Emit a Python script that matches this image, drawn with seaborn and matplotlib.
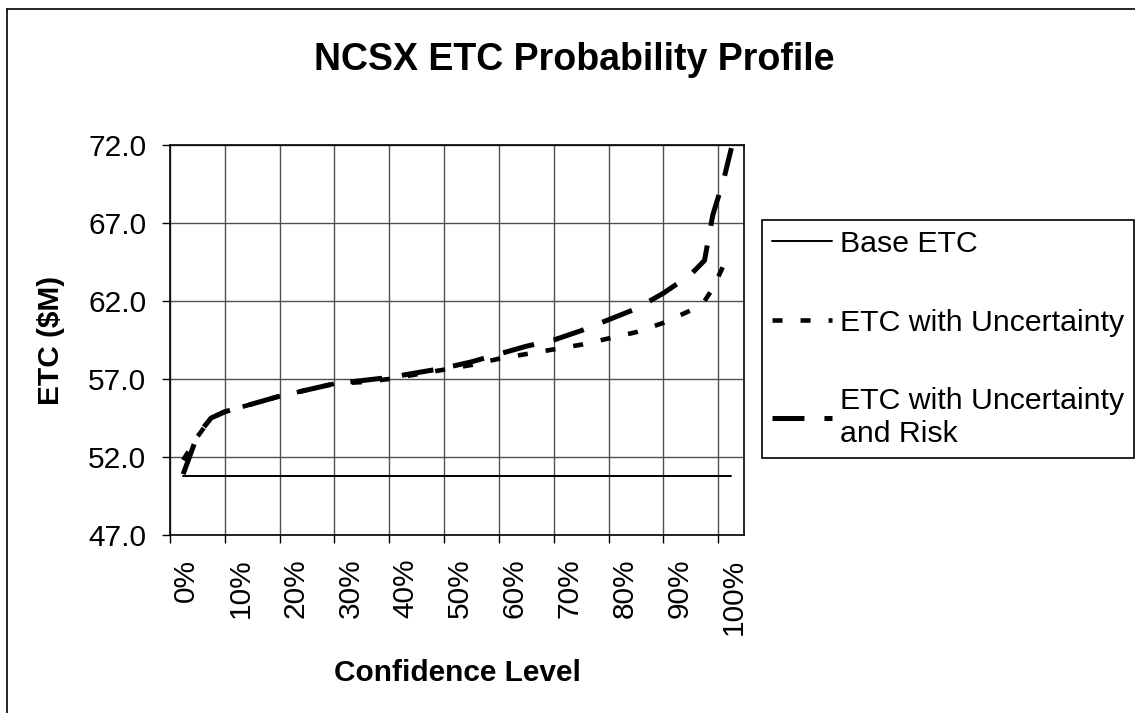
import pandas as pd
import seaborn as sns
import matplotlib.pyplot as plt
import matplotlib.transforms as mtransforms
from matplotlib.lines import Line2D
from matplotlib.ticker import FixedLocator, FixedFormatter, FormatStrFormatter

# values
confidence = [0.024, 0.05, 0.075, 0.10, 0.15, 0.20, 0.25, 0.30, 0.35, 0.40,
              0.45, 0.50, 0.55, 0.60, 0.65, 0.70, 0.75, 0.80, 0.85, 0.90,
              0.95, 0.975, 0.99, 1.01, 1.024]
etc_uncertainty = [51.8, 53.3, 54.5, 54.9, 55.4, 55.9, 56.3, 56.7, 56.8, 57.0,
                   57.3, 57.6, 57.9, 58.3, 58.6, 58.9, 59.2, 59.6, 60.0, 60.6,
                   61.4, 62.0, 62.8, 64.3, 65.1]
etc_risk = [50.9, 53.4, 54.5, 54.9, 55.4, 55.9, 56.3, 56.7, 56.9, 57.1,
            57.4, 57.7, 58.1, 58.6, 59.1, 59.5, 60.1, 60.8, 61.5, 62.5,
            63.7, 64.6, 67.5, 69.8, 71.8]
base_x = [0.024, 1.024]
base_etc = [50.8, 50.8]

x_ticks = [0.0, 0.1, 0.2, 0.3, 0.4, 0.5, 0.6, 0.7, 0.8, 0.9, 1.0]
x_tick_labels = ["0%", "10%", "20%", "30%", "40%", "50%",
                 "60%", "70%", "80%", "90%", "100%"]
y_ticks = [47.0, 52.0, 57.0, 62.0, 67.0, 72.0]

sns.set_theme(style="ticks")
plt.rcParams['font.family'] = ['Liberation Sans', 'DejaVu Sans']
plt.rcParams['lines.scale_dashes'] = False
plt.rcParams['text.color'] = 'black'
plt.rcParams['axes.labelcolor'] = 'black'
plt.rcParams['xtick.color'] = 'black'
plt.rcParams['ytick.color'] = 'black'

W, H = 1135, 713
fig = plt.figure(figsize=(W / 100, H / 100), dpi=100)
ax = fig.add_axes([170 / W, 1 - 535 / H, (744 - 170) / W, (535 - 145) / H])

df_base = pd.DataFrame({"x": base_x, "y": base_etc})
df_unc = pd.DataFrame({"x": confidence, "y": etc_uncertainty})
df_risk = pd.DataFrame({"x": confidence, "y": etc_risk})

sns.lineplot(data=df_base, x="x", y="y", color="black", lw=1.4,
             label="Base ETC", ax=ax)
sns.lineplot(data=df_unc, x="x", y="y", color="black", lw=3.3,
             linestyle=(0, (7.2, 13.0)), label="ETC with Uncertainty", ax=ax)
sns.lineplot(data=df_risk, x="x", y="y", color="black", lw=3.6,
             linestyle=(0, (23.0, 14.4)),
             label="ETC with Uncertainty\nand Risk", ax=ax)

ax.set_xlim(0, 1.047)
ax.set_ylim(47, 72)
ax.xaxis.set_major_locator(FixedLocator(x_ticks))
ax.xaxis.set_major_formatter(FixedFormatter(x_tick_labels))
ax.yaxis.set_major_locator(FixedLocator(y_ticks))
ax.yaxis.set_major_formatter(FormatStrFormatter("%.1f"))
ax.grid(True, color="#505050", lw=1.0)
for s in ax.spines.values():
    s.set_visible(True)
    s.set_color("black")
    s.set_linewidth(1.2)
ax.tick_params(axis="both", direction="out", length=6, width=1,
               color="black", labelsize=21.5, labelcolor="black")
ax.tick_params(axis="x", pad=11, labelrotation=90)
ax.tick_params(axis="y", pad=11)
offset = mtransforms.ScaledTranslation(0.16, 0, fig.dpi_scale_trans)
for lab in ax.get_xticklabels():
    lab.set_transform(lab.get_transform() + offset)

ax.set_xlabel("Confidence Level", fontsize=21.5, fontweight="bold")
ax.set_ylabel("ETC ($M)", fontsize=21.5, fontweight="bold")
ax.xaxis.set_label_coords(0.5, -0.318)
ax.yaxis.set_label_coords(-0.183, 0.5)

fig.text(574 / W, 1 - 60 / H, "NCSX ETC Probability Profile",
         ha="center", va="center", fontsize=27, fontweight="bold")

handles, labels = ax.get_legend_handles_labels()
leg = ax.legend(handles, labels, loc="upper left",
                bbox_to_anchor=(762 / W, 1 - 220 / H),
                bbox_transform=fig.transFigure, frameon=True, fancybox=False,
                edgecolor="black", framealpha=1, fontsize=21.8,
                handlelength=2.0, handletextpad=0.27, labelspacing=1.68,
                borderpad=0.32, borderaxespad=0)
leg.get_frame().set_linewidth(1.2)

# outer chart border (left and top visible)
fig.add_artist(Line2D([7 / W, 7 / W], [0, 1 - 9 / H], color="black", lw=1.2,
                      transform=fig.transFigure))
fig.add_artist(Line2D([7 / W, 1], [1 - 9 / H, 1 - 9 / H], color="black",
                      lw=1.2, transform=fig.transFigure))

plt.savefig("out.png", dpi=100)
